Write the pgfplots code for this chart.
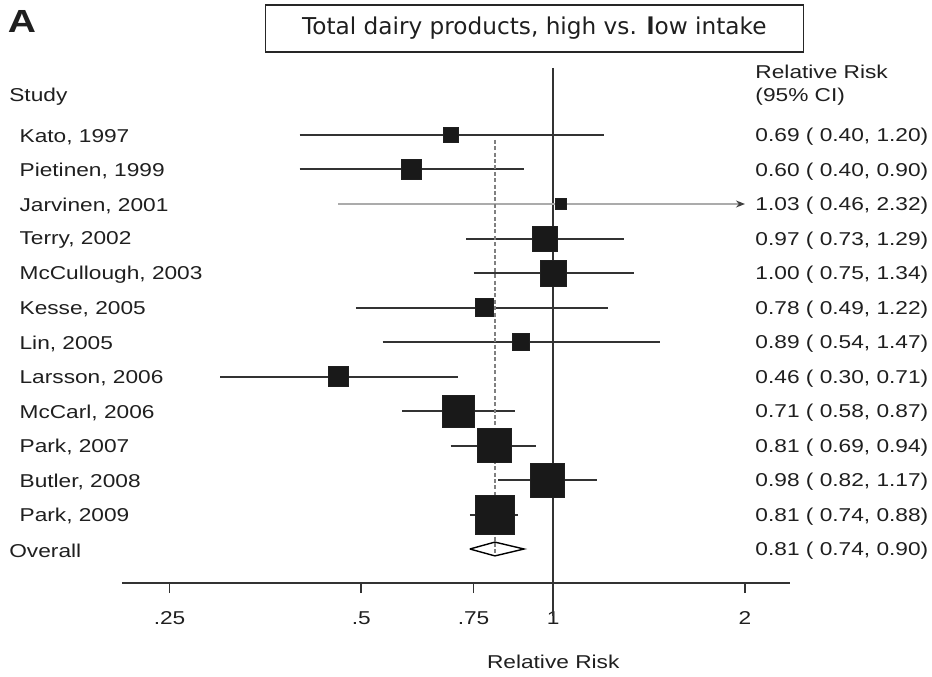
\documentclass[border=0pt]{standalone}
\usepackage{fontspec}
\setmainfont{Liberation Sans}[FakeStretch=1.22]
\newfontfamily\titlefont{DejaVu Sans}
\usepackage{pgfplots}
\pgfplotsset{compat=1.18}
\usetikzlibrary{arrows.meta}

\begin{document}
\fontsize{9.3}{11.5}\selectfont
\color{black!88}
\begin{tikzpicture}[lab/.style={anchor=west, inner sep=0pt}]
\begin{axis}[
  scale only axis, width=334pt, height=257.5pt,
  xmode=log, xmin=0.2105, xmax=2.353, ymin=0.0145, ymax=14.942,
  axis x line=bottom, axis y line=none,
  x axis line style={-, draw=black!80, line width=0.9pt},
  xtick={0.25,0.5,0.75,1,2}, xticklabels={.25,.5,.75,1,2},
  xminorticks=false,
  tick align=outside, major tick length=5pt,
  tick style={draw=black!80, line width=0.9pt},
  xticklabel style={font=\fontsize{9.3}{11}\selectfont, text=black!88, yshift=-6pt},
  clip=false,
  ci/.style={no markers, draw=black!80, line width=1pt},
  box/.style={only marks, mark=square*, mark options={draw=none, fill=black!90}},
]
\coordinate (O) at (rel axis cs:0,0);
% reference line at RR = 1
\addplot[no markers, draw=black!80, line width=1pt] coordinates {(1,14.942) (1,-0.95)};
% confidence intervals
\addplot[ci] coordinates {(0.40,13) (1.20,13)};
\addplot[ci] coordinates {(0.40,12) (0.90,12)};
\addplot[no markers, draw=black!33, line width=1.2pt, -{Stealth[length=4.5pt,width=3.5pt,color=black!75]}] coordinates {(0.46,11) (2.0,11)};
\addplot[ci] coordinates {(0.73,10) (1.29,10)};
\addplot[ci] coordinates {(0.75,9) (1.34,9)};
\addplot[ci] coordinates {(0.49,8) (1.22,8)};
\addplot[ci] coordinates {(0.54,7) (1.47,7)};
\addplot[ci] coordinates {(0.30,6) (0.71,6)};
\addplot[ci] coordinates {(0.58,5) (0.87,5)};
\addplot[ci] coordinates {(0.69,4) (0.94,4)};
\addplot[ci] coordinates {(0.82,3) (1.17,3)};
\addplot[ci] coordinates {(0.74,2) (0.88,2)};
% overall diamond
\addplot[no markers, draw=black, line width=0.7pt, line join=miter] coordinates {(0.74,1) (0.81,1.2) (0.90,1) (0.81,0.8) (0.74,1)};
% overall estimate (dashed)
\addplot[no markers, draw=black!50, line width=0.75pt, dash pattern=on 2pt off 1.2pt] coordinates {(0.81,12.86) (0.81,0.8)};
% weighted boxes (mark size = half side)
\addplot[box, mark size=3.75pt] coordinates {(0.69,13)};
\addplot[box, mark size=5pt]    coordinates {(0.60,12)};
\addplot[box, mark size=2.75pt] coordinates {(1.03,11)};
\addplot[box, mark size=6.25pt] coordinates {(0.97,10)};
\addplot[box, mark size=6.5pt]  coordinates {(1.00,9)};
\addplot[box, mark size=4.5pt]  coordinates {(0.78,8)};
\addplot[box, mark size=4.25pt] coordinates {(0.89,7)};
\addplot[box, mark size=5pt]    coordinates {(0.46,6)};
\addplot[box, mark size=8pt]    coordinates {(0.71,5)};
\addplot[box, mark size=8.5pt]  coordinates {(0.81,4)};
\addplot[box, mark size=8.5pt]  coordinates {(0.98,3)};
\addplot[box, mark size=9.75pt] coordinates {(0.81,2)};

% study labels
\node[lab] at (axis cs:0.1399,14.1) {Study};
\node[lab] at (axis cs:0.1452,12.95) {Kato, 1997};
\node[lab] at (axis cs:0.1452,11.95) {Pietinen, 1999};
\node[lab] at (axis cs:0.1452,10.95) {Jarvinen, 2001};
\node[lab] at (axis cs:0.1452,9.95) {Terry, 2002};
\node[lab] at (axis cs:0.1452,8.95) {McCullough, 2003};
\node[lab] at (axis cs:0.1452,7.95) {Kesse, 2005};
\node[lab] at (axis cs:0.1452,6.95) {Lin, 2005};
\node[lab] at (axis cs:0.1452,5.95) {Larsson, 2006};
\node[lab] at (axis cs:0.1452,4.95) {McCarl, 2006};
\node[lab] at (axis cs:0.1452,3.95) {Park, 2007};
\node[lab] at (axis cs:0.1452,2.95) {Butler, 2008};
\node[lab] at (axis cs:0.1452,1.95) {Park, 2009};
\node[lab] at (axis cs:0.1399,0.95) {Overall};
% estimates
\node[lab, align=left] at (axis cs:2.074,14.45) {Relative Risk\\(95\% CI)};
\node[lab] at (axis cs:2.074,12.95) {0.69 ( 0.40, 1.20)};
\node[lab] at (axis cs:2.074,11.95) {0.60 ( 0.40, 0.90)};
\node[lab] at (axis cs:2.074,10.95) {1.03 ( 0.46, 2.32)};
\node[lab] at (axis cs:2.074,9.95) {0.97 ( 0.73, 1.29)};
\node[lab] at (axis cs:2.074,8.95) {1.00 ( 0.75, 1.34)};
\node[lab] at (axis cs:2.074,7.95) {0.78 ( 0.49, 1.22)};
\node[lab] at (axis cs:2.074,6.95) {0.89 ( 0.54, 1.47)};
\node[lab] at (axis cs:2.074,5.95) {0.46 ( 0.30, 0.71)};
\node[lab] at (axis cs:2.074,4.95) {0.71 ( 0.58, 0.87)};
\node[lab] at (axis cs:2.074,3.95) {0.81 ( 0.69, 0.94)};
\node[lab] at (axis cs:2.074,2.95) {0.98 ( 0.82, 1.17)};
\node[lab] at (axis cs:2.074,1.95) {0.81 ( 0.74, 0.88)};
\node[lab] at (axis cs:2.074,0.95) {0.81 ( 0.74, 0.90)};
% title, panel letter, axis label
\node[draw=black!85, line width=0.7pt, minimum width=269pt, minimum height=23.5pt,
  font=\titlefont\fontsize{11.6}{13}\selectfont] at (axis cs:0.934,16.09)
  {Total dairy products, high vs. \textbf{l}ow intake};
\node[font=\fontsize{16}{18}\selectfont\bfseries] at (axis cs:0.1466,16.30) {A};
\node at (axis cs:1,-2.28) {Relative Risk};
\end{axis}
\pgfresetboundingbox
\path[use as bounding box] ([xshift=-61pt,yshift=-46.5pt]O) rectangle ++(466pt,338pt);
\end{tikzpicture}
\end{document}
